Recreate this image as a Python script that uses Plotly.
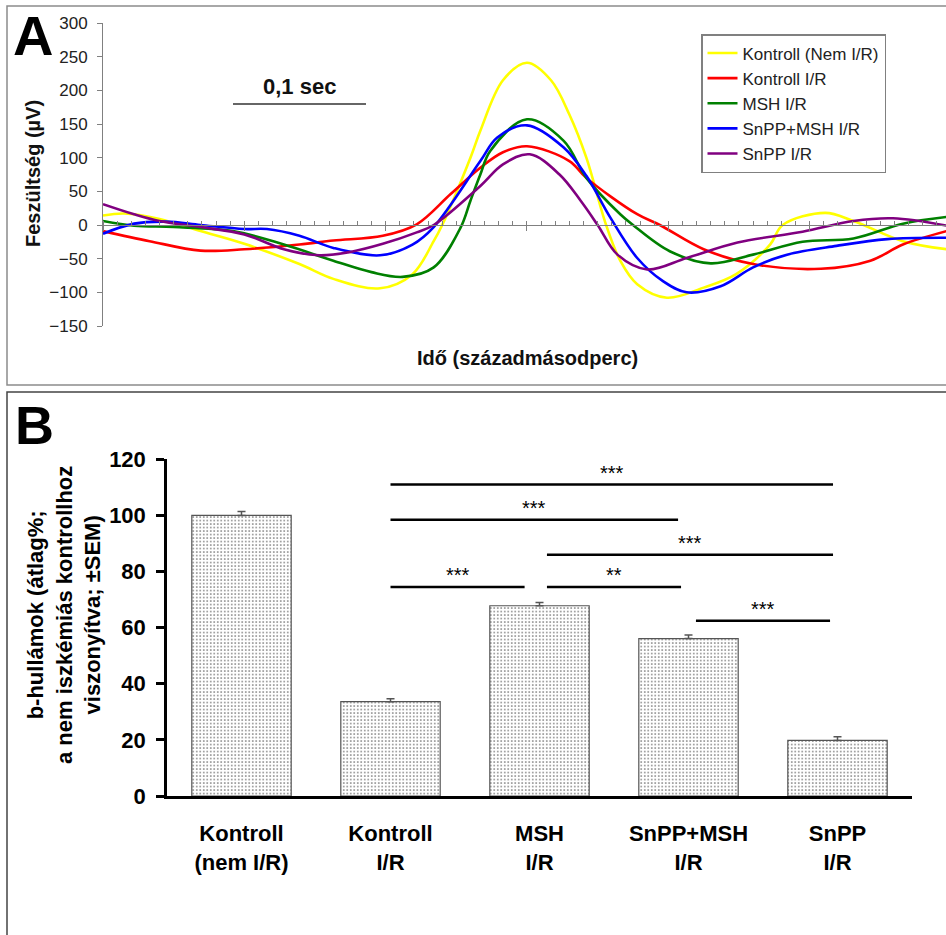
import plotly.graph_objects as go

W, H = 946, 935
FONT = "Liberation Sans, Arial, sans-serif"

# ---------------- Panel A data (time in centiseconds, voltage in µV) ----------------
series_names = ["Kontroll (Nem I/R)", "Kontroll I/R", "MSH I/R", "SnPP+MSH I/R", "SnPP I/R"]
series_colors = ["#FFFF00", "#FF0000", "#008000", "#0000FF", "#800080"]

kontroll_nem_t = [0, 1.5, 4, 6.9, 10, 13.9, 16.3, 19.6, 21.9, 23.4, 24.0, 26.0, 26.7, 28.3, 30.0,
                  31.7, 33.0, 34.2, 35.6, 36.6, 37.8, 39.9, 42.5, 44.8, 47.2, 48.1, 51.1, 53.1, 56.6, 59.7]
kontroll_nem_v = [14, 17, 9, -9, -28, -58, -80, -94, -73, -24, 0, 100, 140, 215, 241,
                  215, 164, 100, 0, -53, -88, -108, -93, -73, -29, 0, 18, 6, -24, -36]

kontroll_ir_t = [0, 3.3, 6.9, 10, 13.9, 16.3, 19.8, 22.2, 24.6, 26.7, 28.3, 30.0, 33.0, 34.2,
                 37.8, 39.4, 42.5, 46.0, 50.8, 54.3, 56.6, 59.7]
kontroll_ir_v = [-9, -24, -38, -36, -29, -23, -16, 1, 46, 85, 108, 117, 95, 70,
                 16, 0, -36, -58, -65, -53, -29, -9]

msh_ir_t = [0, 2.2, 5, 9.2, 12.8, 16.3, 19, 21.2, 23.4, 25.3, 26.0, 26.7, 27.4, 30.0, 32.6,
            34.2, 36.6, 37.5, 40.1, 43.0, 46.0, 49.5, 53.1, 56.6, 59.7]
msh_ir_v = [6, -1, -3, -9, -29, -53, -70, -77, -63, -4, 36, 75, 110, 157, 125,
            70, 16, 0, -39, -57, -44, -25, -20, 2, 12]

snpp_msh_ir_t = [0, 2.2, 4.5, 6.9, 10, 11.6, 13.9, 16.3, 19.6, 21.9, 23.4, 26.7, 27.9, 30.0,
                 32.6, 34.2, 35.9, 37.8, 39.6, 41.3, 43.7, 46.0, 48.4, 51.9, 55.5, 59.7]
snpp_msh_ir_v = [-13, 2, 5, 0, -6, -6, -16, -34, -45, -29, -3, 95, 130, 148,
                 115, 73, 11, -49, -83, -100, -91, -63, -44, -31, -21, -19]

snpp_ir_t = [0, 2.2, 4, 6.9, 10, 12.8, 15.3, 17.5, 19.8, 22.2, 23.4, 26.7, 28.3, 30.2, 32.3,
             33.8, 35.0, 36.4, 38.5, 41.3, 44.9, 49.5, 53.1, 55.9, 59.7]
snpp_ir_v = [31, 16, 6, -3, -14, -36, -45, -40, -28, -11, 0, 58, 90, 105, 75,
             36, 0, -44, -66, -49, -26, -10, 6, 10, -1]

series_t = [kontroll_nem_t, kontroll_ir_t, msh_ir_t, snpp_msh_ir_t, snpp_ir_t]
series_v = [kontroll_nem_v, kontroll_ir_v, msh_ir_v, snpp_msh_ir_v, snpp_ir_v]

# ---------------- Panel B data ----------------
bar_labels = ["Kontroll<br>(nem I/R)", "Kontroll<br>I/R", "MSH<br>I/R", "SnPP+MSH<br>I/R", "SnPP<br>I/R"]
bar_values = [100, 33.6, 67.8, 56.1, 19.8]
bar_sem = [1.4, 1.1, 1.2, 1.3, 1.3]

sig_x0 = [1.0, 1.0, 2.05, 1.0, 2.05, 3.05]
sig_x1 = [3.97, 2.93, 3.97, 1.9, 2.95, 3.95]
sig_y = [111, 98.5, 86, 74.5, 74.5, 62.5]
sig_text = ["***", "***", "***", "***", "**", "***"]


def px_x(p):
    return p / W


def px_y(p):
    return (H - p) / H


fig = go.Figure()

for name, color, t, v in zip(series_names, series_colors, series_t, series_v):
    fig.add_trace(go.Scatter(
        x=t, y=v, mode="lines", name=name, legendgroup=name,
        line=dict(color=color, width=2.6, shape="spline", smoothing=1.0),
        xaxis="x", yaxis="y", cliponaxis=True,
    ))

fig.add_trace(go.Bar(
    x=list(range(len(bar_values))), y=bar_values, width=0.667,
    marker=dict(color="white", line=dict(color="#555555", width=1.2),
                pattern=dict(shape=".", fgcolor="#8c8c8c", bgcolor="#ffffff", size=3.5, solidity=0.22)),
    error_y=dict(type="data", array=bar_sem, arrayminus=[0] * len(bar_sem), symmetric=False,
                 color="#555555", thickness=1.5, width=4),
    xaxis="x2", yaxis="y2", showlegend=False,
))

# axis geometry
ya_dom = [px_y(326), px_y(23)]
ya_rng = [-150, 300]
zero_pos = ya_dom[0] + (0 - ya_rng[0]) / (ya_rng[1] - ya_rng[0]) * (ya_dom[1] - ya_dom[0])
xa_dom = [px_x(103), 1.0]
xa_rng = [0, 59.65]

fig.update_layout(
    template="none",
    width=W, height=H, margin=dict(l=0, r=0, t=0, b=0, pad=0, autoexpand=False),
    paper_bgcolor="white", plot_bgcolor="rgba(0,0,0,0)",
    font=dict(family=FONT, color="#222222"),
    xaxis=dict(domain=xa_dom, range=xa_rng, anchor="free", position=zero_pos, automargin=False,
               showline=True, linecolor="#808080", linewidth=1,
               ticks="outside", ticklen=5, tickcolor="#808080", tickwidth=1,
               tick0=0, dtick=10, showticklabels=False, showgrid=False, zeroline=False,
               minor=dict(ticks="inside", ticklen=4, dtick=1, tick0=0, tickcolor="#808080",
                          tickwidth=1, showgrid=False)),
    xaxis3=dict(domain=xa_dom, range=xa_rng, anchor="free", position=zero_pos, overlaying="x",
                automargin=False,
                showline=False, ticks="inside", ticklen=4, tickcolor="#808080", tickwidth=1,
                tick0=0, dtick=10, showticklabels=False, showgrid=False, zeroline=False),
    yaxis=dict(domain=ya_dom, range=ya_rng, anchor="x", dtick=50, automargin=False,
               showline=True, linecolor="#808080", linewidth=1,
               ticks="outside", ticklen=5, tickcolor="#808080",
               tickfont=dict(size=17, color="#222222", family=FONT),
               ticklabelstandoff=6, showgrid=False, zeroline=False),
    xaxis2=dict(domain=[px_x(167), px_x(912)], range=[-0.5, 4.5], anchor="y2", automargin=False,
                showline=True, linecolor="black", linewidth=2.5,
                ticks="", tickvals=list(range(len(bar_labels))), ticktext=bar_labels,
                tickfont=dict(size=22, color="black", family=FONT, weight="bold"),
                ticklabelstandoff=16, showgrid=False, zeroline=False),
    yaxis2=dict(domain=[px_y(796), px_y(459.3)], range=[0, 120], anchor="x2", dtick=20,
                automargin=False,
                showline=True, linecolor="black", linewidth=2.5,
                ticks="outside", ticklen=8, tickwidth=2.5, tickcolor="black",
                tickfont=dict(size=22, color="black", family=FONT, weight="bold"),
                ticklabelstandoff=6, showgrid=False, zeroline=False),
    legend=dict(x=px_x(701), y=px_y(34), xanchor="left", yanchor="top",
                bordercolor="#808080", borderwidth=1.5, bgcolor="white",
                font=dict(size=17, color="#222222", family=FONT),
                tracegroupgap=0, itemwidth=30),
    showlegend=True,
)

shapes = []
# panel frames
shapes.append(dict(type="rect", xref="paper", yref="paper",
                   x0=px_x(7), x1=1.02, y0=px_y(385), y1=px_y(6),
                   line=dict(color="#8c8c8c", width=1.5), layer="below"))
shapes.append(dict(type="rect", xref="paper", yref="paper",
                   x0=px_x(7), x1=1.02, y0=-0.02, y1=px_y(392),
                   line=dict(color="#444444", width=1.5), layer="below"))
# 0,1 sec scale bar
shapes.append(dict(type="line", xref="paper", yref="paper",
                   x0=px_x(233), x1=px_x(366), y0=px_y(104), y1=px_y(104),
                   line=dict(color="#333333", width=1.5)))
# significance lines
for x0, x1, y in zip(sig_x0, sig_x1, sig_y):
    shapes.append(dict(type="line", xref="x2", yref="y2", x0=x0, x1=x1, y0=y, y1=y,
                       line=dict(color="black", width=2.5)))
fig.update_layout(shapes=shapes)

ann = []
ann.append(dict(text="<b>A</b>", x=px_x(11), y=px_y(36), xref="paper", yref="paper",
                xanchor="left", yanchor="middle", showarrow=False,
                font=dict(size=56, color="black", family=FONT)))
ann.append(dict(text="<b>B</b>", x=px_x(13), y=px_y(425), xref="paper", yref="paper",
                xanchor="left", yanchor="middle", showarrow=False,
                font=dict(size=54, color="black", family=FONT)))
ann.append(dict(text="<b>Feszültség (µV)</b>", x=px_x(33), y=px_y(174), xref="paper", yref="paper",
                xanchor="center", yanchor="middle", textangle=-90, showarrow=False,
                font=dict(size=20, color="#111111", family=FONT)))
ann.append(dict(text="<b>Idő (századmásodperc)</b>", x=px_x(527), y=px_y(358), xref="paper", yref="paper",
                xanchor="center", yanchor="middle", showarrow=False,
                font=dict(size=20, color="#111111", family=FONT)))
ann.append(dict(text="<b>0,1 sec</b>", x=px_x(299), y=px_y(87), xref="paper", yref="paper",
                xanchor="center", yanchor="middle", showarrow=False,
                font=dict(size=22, color="#111111", family=FONT)))
ann.append(dict(text="<b>b-hullámok (átlag%;<br>a nem iszkémiás kontrollhoz<br>viszonyítva; ±SEM)</b>",
                x=px_x(64), y=px_y(615), xref="paper", yref="paper",
                xanchor="center", yanchor="middle", textangle=-90, showarrow=False,
                font=dict(size=22, color="black", family=FONT)))
for x0, x1, y, t in zip(sig_x0, sig_x1, sig_y, sig_text):
    ann.append(dict(text=t, x=(x0 + x1) / 2, y=y, xref="x2", yref="y2",
                    xanchor="center", yanchor="bottom", yshift=-1, showarrow=False,
                    font=dict(size=20, color="black", family=FONT)))
fig.update_layout(annotations=ann)

fig.write_html("out.html", config={"displayModeBar": False},
               post_script="document.body.style.margin='0px';")
